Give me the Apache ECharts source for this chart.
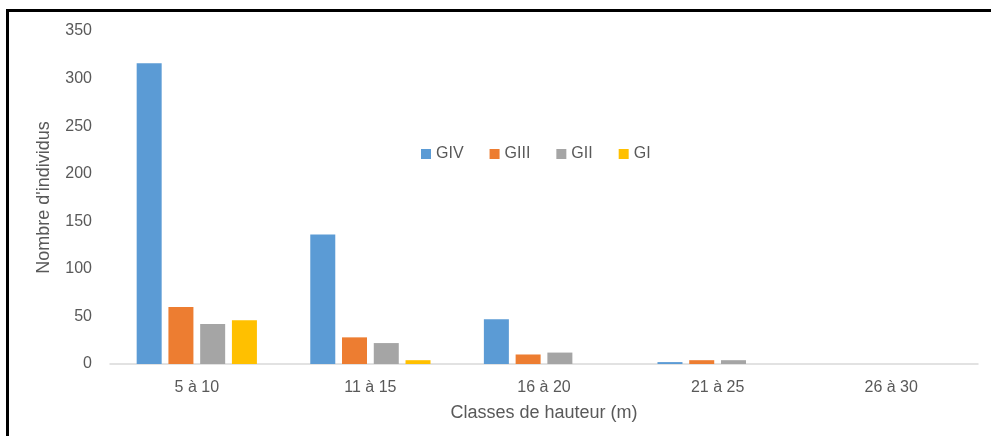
<!DOCTYPE html>
<html>
<head>
<meta charset="utf-8">
<script src="https://cdn.jsdelivr.net/npm/echarts@6/dist/echarts.min.js"></script>
<style>
html,body{margin:0;padding:0;background:#fff;}
#chart{width:991px;height:436px;}
#frame{position:absolute;left:6px;top:9px;width:985px;height:427px;border-top:3px solid #000;border-left:3px solid #000;box-sizing:border-box;pointer-events:none;}
</style>
</head>
<body>
<div id="chart"></div>
<div id="frame"></div>
<script>
const categories = ['5 à 10', '11 à 15', '16 à 20', '21 à 25', '26 à 30'];
const seriesNames = ['GIV', 'GIII', 'GII', 'GI'];
const GIV = [316, 136, 47, 2, 0];
const GIII = [60, 28, 10, 4, 0];
const GII = [42, 22, 12, 4, 0];
const GI = [46, 4, 0, 0, 0];
const colors = ['#5B9BD5', '#ED7D31', '#A5A5A5', '#FFC000'];
const yTicks = [0, 50, 100, 150, 200, 250, 300, 350];

const values = [GIV, GIII, GII, GI];
const chart = echarts.init(document.getElementById('chart'));
const font = 'Liberation Sans, Arial, sans-serif';
chart.setOption({
  animation: false,
  color: colors,
  textStyle: {fontFamily: font},
  grid: {left: 110, right: 13, top: 31, bottom: 72},
  legend: {
    data: seriesNames,
    left: 416, top: 141,
    itemWidth: 10, itemHeight: 10, itemGap: 26,
    icon: 'rect',
    textStyle: {fontSize: 16, color: '#595959', fontFamily: font}
  },
  xAxis: {
    type: 'category',
    data: categories,
    axisLine: {lineStyle: {color: '#D9D9D9', width: 1.5}},
    axisTick: {show: false},
    axisLabel: {fontSize: 16, color: '#595959', margin: 16},
    name: 'Classes de hauteur (m)',
    nameLocation: 'middle',
    nameGap: 40,
    nameTextStyle: {fontSize: 18, color: '#595959'}
  },
  yAxis: {
    type: 'value',
    min: 0, max: 350, interval: 50,
    splitLine: {show: false},
    axisLine: {show: false},
    axisTick: {show: false},
    axisLabel: {fontSize: 16, color: '#595959', margin: 18,
      formatter: v => yTicks.includes(v) ? String(v) : ''},
    name: "Nombre d'individus",
    nameLocation: 'middle',
    nameGap: 57,
    nameTextStyle: {fontSize: 18, color: '#595959'}
  },
  series: seriesNames.map((n, i) => ({
    name: n,
    type: 'bar',
    data: values[i],
    barWidth: 25,
    barGap: '27%',
    itemStyle: {color: colors[i]}
  }))
});
</script>
</body>
</html>
